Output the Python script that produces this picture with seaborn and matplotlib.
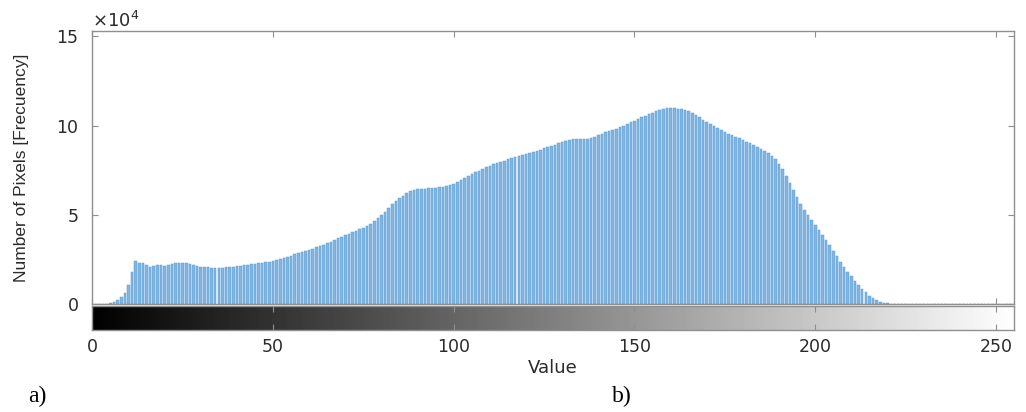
import numpy as np
import pandas as pd
import matplotlib
matplotlib.use("Agg")
import matplotlib.pyplot as plt
import seaborn as sns
from matplotlib.ticker import FuncFormatter

# ---- data ----
gray_levels = list(range(256))
counts_x1e4 = [
    0, 0, 0, 0, 0.01, 0.03, 0.09, 0.22, 0.37, 0.63,          # 0-9
    1.07, 1.78, 2.40, 2.30, 2.28, 2.16, 2.10, 2.14, 2.16, 2.16,  # 10-19
    2.15, 2.17, 2.24, 2.29, 2.30, 2.30, 2.29, 2.24, 2.19, 2.13,  # 20-29
    2.10, 2.08, 2.06, 2.04, 2.03, 2.02, 2.02, 2.06, 2.07, 2.08,  # 30-39
    2.12, 2.14, 2.17, 2.20, 2.23, 2.25, 2.27, 2.30, 2.33, 2.36,  # 40-49
    2.40, 2.45, 2.51, 2.57, 2.64, 2.71, 2.78, 2.84, 2.90, 2.97,  # 50-59
    3.04, 3.10, 3.17, 3.25, 3.33, 3.41, 3.50, 3.59, 3.68, 3.77,  # 60-69
    3.86, 3.94, 4.02, 4.10, 4.19, 4.28, 4.38, 4.50, 4.64, 4.80,  # 70-79
    4.98, 5.18, 5.40, 5.60, 5.78, 5.93, 6.07, 6.20, 6.31, 6.38,  # 80-89
    6.42, 6.45, 6.46, 6.48, 6.50, 6.52, 6.55, 6.58, 6.62, 6.67,  # 90-99
    6.75, 6.83, 6.93, 7.04, 7.15, 7.26, 7.37, 7.48, 7.58, 7.67,  # 100-109
    7.75, 7.83, 7.90, 7.97, 8.04, 8.10, 8.16, 8.22, 8.28, 8.34,  # 110-119
    8.40, 8.46, 8.52, 8.58, 8.65, 8.72, 8.79, 8.86, 8.93, 9.00,  # 120-129
    9.07, 9.14, 9.20, 9.23, 9.25, 9.24, 9.22, 9.24, 9.30, 9.38,  # 130-139
    9.47, 9.55, 9.62, 9.68, 9.75, 9.82, 9.90, 10.00, 10.10, 10.19,  # 140-149
    10.28, 10.38, 10.47, 10.56, 10.65, 10.73, 10.80, 10.87, 10.93, 10.96,  # 150-159
    10.97, 10.96, 10.95, 10.93, 10.88, 10.80, 10.70, 10.58, 10.46, 10.34,  # 160-169
    10.22, 10.10, 9.98, 9.86, 9.74, 9.65, 9.55, 9.46, 9.37, 9.28,  # 170-179
    9.20, 9.10, 9.00, 8.90, 8.80, 8.70, 8.59, 8.47, 8.32, 8.12,  # 180-189
    7.86, 7.55, 7.18, 6.78, 6.38, 5.98, 5.62, 5.28, 4.98, 4.70,  # 190-199
    4.42, 4.15, 3.88, 3.58, 3.28, 2.98, 2.68, 2.38, 2.10, 1.82,  # 200-209
    1.55, 1.30, 1.07, 0.85, 0.65, 0.47, 0.32, 0.20, 0.12, 0.07,  # 210-219
    0.04, 0.025, 0.015, 0.01, 0.006, 0.004, 0.002, 0.002, 0.002, 0.002,  # 220-229
    0.002, 0.002, 0.002, 0.002, 0.002, 0.002, 0.001, 0.001, 0.001, 0.001,  # 230-239
    0.001, 0.001, 0.001, 0.001, 0.001, 0.001, 0, 0, 0, 0,  # 240-249
    0, 0, 0, 0, 0, 0,  # 250-255
]
y_ticks_x1e4 = [0, 5, 10, 15]
x_ticks = [0, 50, 100, 150, 200, 250]
y_label = "Number of Pixels [Frecuency]"
x_label = "Value"
panel_labels = ["a)", "b)"]

df = pd.DataFrame({"value": gray_levels,
                   "count": np.array(counts_x1e4) * 1e4})

# ---- figure ----
sns.set_style("white")
plt.rcParams["font.family"] = ["DejaVu Sans"]

W, H = 1026, 412
fig = plt.figure(figsize=(W / 100, H / 100), dpi=100)

spine_col = "#8f8f8f"
text_col = "#2b2b2b"

ax = fig.add_axes([92.3 / W, 1 - 304 / H, (1014 - 92.3) / W, (304 - 31) / H])
sns.histplot(data=df, x="value", weights="count", discrete=True, shrink=0.72,
             color="#80b6e0", edgecolor="#5a9ad6", linewidth=0.35, alpha=1,
             ax=ax)
ax.set_xlim(0, 255)
ax.set_ylim(0, 15.3e4)
ax.set_yticks([v * 1e4 for v in y_ticks_x1e4])
ax.yaxis.set_major_formatter(FuncFormatter(lambda v, p: f"{v / 1e4:g}"))
ax.set_xticks(x_ticks)
ax.tick_params(axis="x", direction="in", top=True, bottom=True,
               labelbottom=False, length=4, color=spine_col)
ax.tick_params(axis="y", direction="in", left=True, right=True,
               length=4, color=spine_col, labelsize=12.5, labelcolor=text_col,
               pad=10)
ax.set_xlabel("")
ax.set_ylabel("")
for s in ax.spines.values():
    s.set_color(spine_col)
    s.set_linewidth(1.0)

ax.text(0.0, 1.0, r"$\times10^{4}$", transform=ax.transAxes,
        ha="left", va="bottom", fontsize=13, color=text_col)

# grayscale colour bar under the histogram
cax = fig.add_axes([92.3 / W, 1 - 330 / H, (1014 - 92.3) / W, 24 / H])
cax.imshow(np.arange(256)[None, :], cmap="gray", aspect="auto",
           extent=(0, 255, 0, 1), vmin=0, vmax=255)
cax.set_xlim(0, 255)
cax.set_xticks(x_ticks)
cax.set_yticks([])
cax.tick_params(axis="x", direction="in", top=True, bottom=True,
                length=4, color=spine_col, labelsize=12.5, labelcolor=text_col,
                pad=6)
for s in cax.spines.values():
    s.set_color(spine_col)
    s.set_linewidth(1.0)
cax.set_xlabel(x_label, fontsize=13, color=text_col, labelpad=2)

# y label
fig.text(22 / W, 1 - 168 / H, y_label, rotation=90, ha="center", va="center",
         fontsize=12.5, color=text_col, family=["Liberation Sans", "DejaVu Sans"])

# panel labels
fig.text(28 / W, 1 - 396 / H, panel_labels[0], ha="left", va="center",
         fontsize=17, family="Liberation Serif", color="black")
fig.text(612 / W, 1 - 396 / H, panel_labels[1], ha="left", va="center",
         fontsize=17, family="Liberation Serif", color="black")

fig.savefig("out.png", dpi=100)
